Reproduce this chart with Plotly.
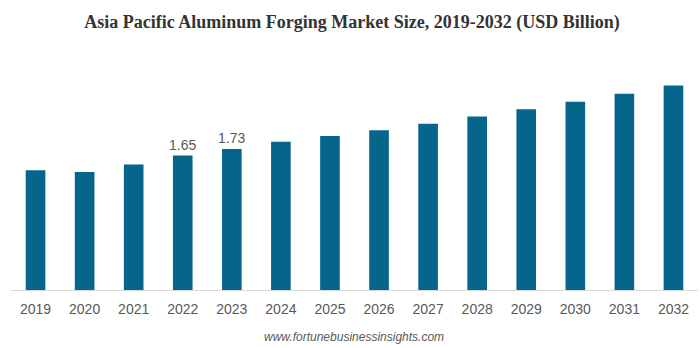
import plotly.graph_objects as go

years = ["2019", "2020", "2021", "2022", "2023", "2024", "2025", "2026",
         "2027", "2028", "2029", "2030", "2031", "2032"]
values = [1.47, 1.45, 1.54, 1.65, 1.73, 1.82, 1.89, 1.96, 2.04, 2.13, 2.22, 2.31, 2.41, 2.51]
labels = ["", "", "", "1.65", "1.73", "", "", "", "", "", "", "", "", ""]

W, H = 700, 348
ML, MR, MT, MB = 11, 2, 45, 58

fig = go.Figure()
fig.add_trace(go.Bar(
    x=years, y=values,
    text=labels, textposition="outside", constraintext="none",
    textfont=dict(family="Liberation Sans, Arial", size=14, color="#595959"),
    marker=dict(color="#05658A", line=dict(width=0)),
    cliponaxis=False,
    hoverinfo="skip",
))

fig.update_layout(
    width=W, height=H,
    margin=dict(l=ML, r=MR, t=MT, b=MB),
    paper_bgcolor="white", plot_bgcolor="white",
    bargap=0.6,
    showlegend=False,
    title=dict(
        text="<b>Asia Pacific Aluminum Forging Market Size, 2019-2032 (USD Billion)</b>",
        font=dict(family="Liberation Serif, Times New Roman", size=18, color="#333333"),
        x=0.503, xanchor="center", y=(H - 21.5) / H, yanchor="middle",
    ),
    xaxis=dict(
        showgrid=False, zeroline=False,
        showline=True, linecolor="#d9d9d9", linewidth=1,
        ticks="", ticklabelstandoff=6,
        tickfont=dict(family="Liberation Sans, Arial", size=14, color="#595959"),
    ),
    yaxis=dict(
        range=[0, 245 / 81.45], visible=False, showgrid=False, zeroline=False,
    ),
    annotations=[dict(
        text="<i>www.fortunebusinessinsights.com</i>",
        xref="paper", yref="paper",
        x=(354 - ML) / (W - ML - MR), y=(290 - 336.7) / (H - MT - MB),
        xanchor="center", yanchor="middle", showarrow=False,
        font=dict(family="Liberation Sans, Arial", size=12, color="#595959"),
    )],
)

fig.write_html("out.html")
